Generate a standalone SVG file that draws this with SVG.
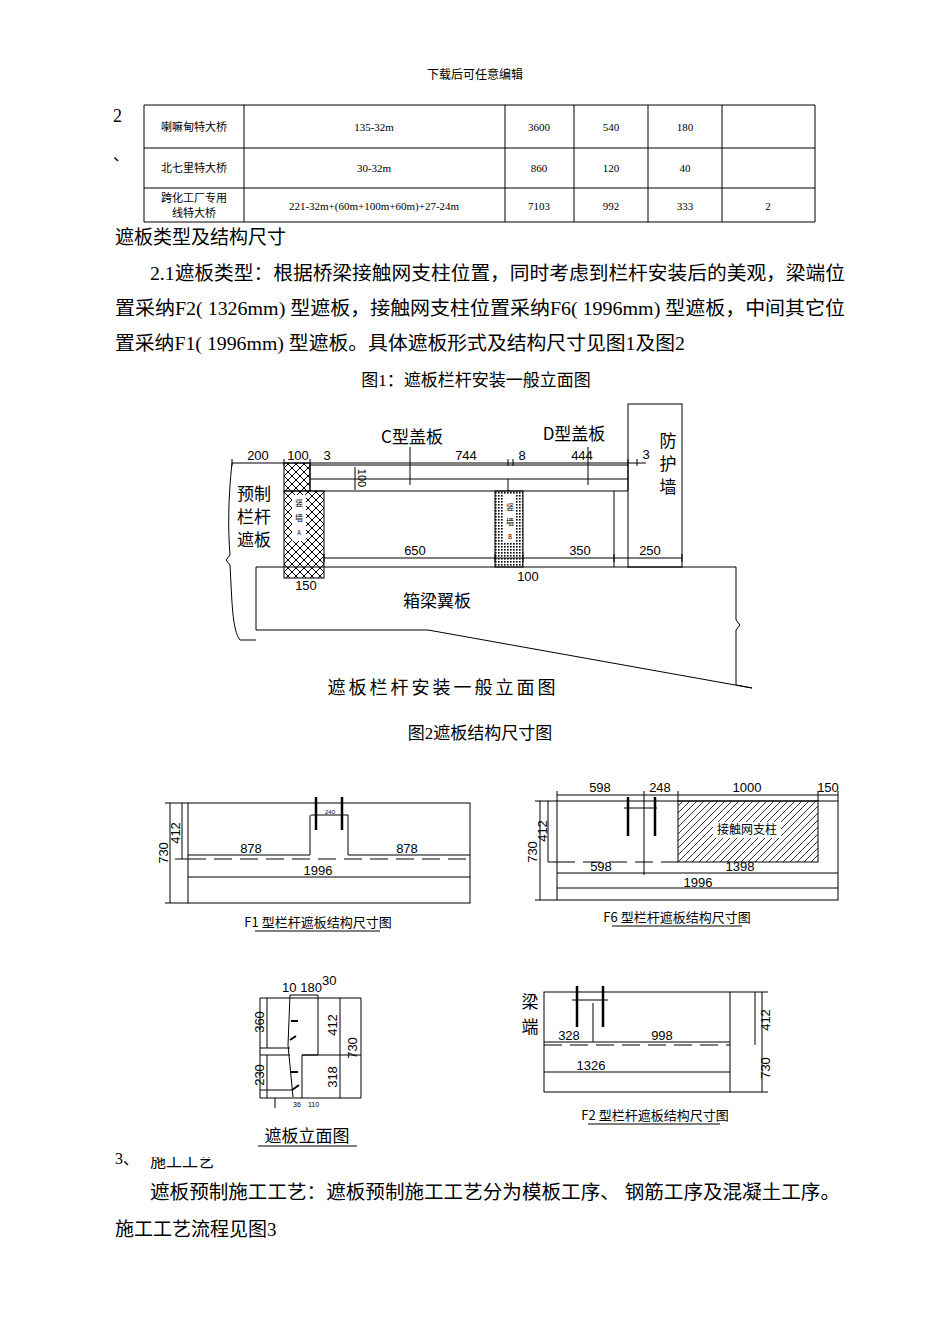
<svg xmlns="http://www.w3.org/2000/svg" width="950" height="1344" viewBox="0 0 950 1344">
<style>
.s{font-family:"Liberation Serif","Noto Sans CJK SC",serif;fill:#000}
.k{font-family:"Noto Sans CJK SC",sans-serif;fill:#000}
.l{stroke:#000;fill:none;stroke-width:1}
.t{stroke:#000;fill:none;stroke-width:1.3}
.d{font-family:"Liberation Sans","Noto Sans CJK SC",sans-serif;fill:#000;font-size:13px}
</style>
<defs>
<pattern id="xh" width="8" height="8" patternUnits="userSpaceOnUse"><path d="M0 0L8 8M8 0L0 8" stroke="#000" stroke-width="1"/></pattern>
<pattern id="dt" width="3" height="3" patternUnits="userSpaceOnUse"><rect width="1.6" height="1.6" fill="#000"/></pattern>
<pattern id="hh" width="7" height="7" patternUnits="userSpaceOnUse"><path d="M0 7L7 0" stroke="#000" stroke-width="0.8"/></pattern>
</defs>
<rect width="950" height="1344" fill="#fff"/>
<text class="k" x="475" y="79" font-size="12" text-anchor="middle">下载后可任意编辑</text>
<g id="table">
<text class="s" x="113" y="122" font-size="18">2</text>
<text class="s" x="113" y="160" font-size="16">、</text>
<path class="l" d="M144 105H815V222H144ZM144 148H815M144 188H815M244 105V222M505 105V222M574 105V222M648 105V222M722 105V222"/>
<g class="s" font-size="11" text-anchor="middle">
<text x="194" y="131">喇嘛甸特大桥</text><text x="374" y="131">135-32m</text><text x="539" y="131">3600</text><text x="611" y="131">540</text><text x="685" y="131">180</text>
<text x="194" y="172">北七里特大桥</text><text x="374" y="172">30-32m</text><text x="539" y="172">860</text><text x="611" y="172">120</text><text x="685" y="172">40</text>
<text x="194" y="202">跨化工厂专用</text><text x="194" y="217">线特大桥</text><text x="374" y="210">221-32m+(60m+100m+60m)+27-24m</text><text x="539" y="210">7103</text><text x="611" y="210">992</text><text x="685" y="210">333</text><text x="768" y="210">2</text>
</g>
</g>
<g class="s" font-size="19">
<text x="115" y="244">遮板类型及结构尺寸</text>
<text x="150" y="280" textLength="695" lengthAdjust="spacingAndGlyphs">2.1遮板类型：根据桥梁接触网支柱位置，同时考虑到栏杆安装后的美观，梁端位</text>
<text x="115" y="315" textLength="730" lengthAdjust="spacingAndGlyphs">置采纳F2( 1326mm) 型遮板，接触网支柱位置采纳F6( 1996mm) 型遮板，中间其它位</text>
<text x="115" y="350" textLength="570" lengthAdjust="spacingAndGlyphs">置采纳F1( 1996mm) 型遮板。具体遮板形式及结构尺寸见图1及图2</text>
<text x="476" y="386" font-size="17" text-anchor="middle">图1：遮板栏杆安装一般立面图</text>
<text x="480" y="739" font-size="17" text-anchor="middle">图2遮板结构尺寸图</text>
</g>
<g id="fig1">
<path class="l" d="M232 463C228 500 228 530 230 555L226 560L230 565C232 600 232 630 240 640H256"/>
<path class="l" d="M256 567H736V620L740 625L736 630V685L752 688L428 630H256Z"/>
<rect x="284" y="463" width="26" height="28" fill="url(#xh)" stroke="#000"/>
<rect x="284" y="491" width="40" height="87" fill="url(#xh)" stroke="#000"/>
<rect x="292" y="495" width="14" height="46" fill="#fff"/>
<text class="k" x="299" y="506" font-size="8" text-anchor="middle">竖</text><text class="k" x="299" y="521" font-size="8" text-anchor="middle">墙</text><text class="k" x="299" y="535" font-size="6" text-anchor="middle">A</text>
<rect x="495" y="491" width="28" height="76" fill="url(#dt)" stroke="#000"/>
<rect x="504" y="495" width="12" height="48" fill="#fff"/>
<text class="k" x="510" y="510" font-size="8" text-anchor="middle">竖</text><text class="k" x="510" y="525" font-size="8" text-anchor="middle">墙</text><text class="k" x="510" y="539" font-size="6" text-anchor="middle">B</text>
<path class="l" d="M310 465H628V491H310ZM310 479H628M508 479V491M614 491V567"/>
<rect x="628" y="404" width="54" height="163" class="l"/>
<path class="l" d="M232 463H646M232 459V466M284 459V466M310 459V466M508 459V466M513 459V466M628 459V466M637 459V466"/>
<path class="l" d="M324 558H682M324 554V562M495 554V562M523 554V562M614 554V562M682 554V562"/>
<path class="l" d="M355 467V490M410 447V485M588 447V485"/>
<g class="d" font-size="14">
<text x="258" y="460" text-anchor="middle">200</text><text x="298" y="460" text-anchor="middle">100</text><text x="327" y="460" text-anchor="middle">3</text>
<text x="466" y="460" text-anchor="middle">744</text><text x="522" y="460" text-anchor="middle">8</text><text x="582" y="460" text-anchor="middle">444</text><text x="646" y="459" text-anchor="middle">3</text>
<text x="415" y="555" text-anchor="middle">650</text><text x="580" y="555" text-anchor="middle">350</text><text x="650" y="555" text-anchor="middle">250</text>
<text x="306" y="590" text-anchor="middle">150</text><text x="528" y="581" text-anchor="middle">100</text>
<text transform="translate(358,478) rotate(90)" font-size="11" text-anchor="middle">100</text>
</g>
<g class="k" font-size="17">
<text x="412" y="443" text-anchor="middle">C型盖板</text><text x="574" y="440" text-anchor="middle">D型盖板</text>
<text x="668" y="447" text-anchor="middle">防</text><text x="668" y="470" text-anchor="middle">护</text><text x="668" y="493" text-anchor="middle">墙</text>
<text x="254" y="500" text-anchor="middle">预制</text><text x="254" y="523" text-anchor="middle">栏杆</text><text x="254" y="546" text-anchor="middle">遮板</text>
<text x="437" y="607" text-anchor="middle">箱梁翼板</text>
<text x="443" y="694" font-size="18" text-anchor="middle" letter-spacing="3">遮板栏杆安装一般立面图</text>
</g>
</g>
<g id="F1">
<rect x="188" y="803" width="282" height="100" class="l"/>
<path class="l" stroke-dasharray="18,8" d="M188 859H470"/>
<path class="l" d="M165 803H188M165 903H188M170 803V903M182 803V859M175 859H188M188 855H310M348 855H470M188 877H470M310 815V855M348 815V855M311 815H348"/>
<path stroke="#000" stroke-width="2.5" d="M316 797V830M342 797V830"/>
<g class="d"><text x="251" y="853" text-anchor="middle">878</text><text x="407" y="853" text-anchor="middle">878</text><text x="318" y="875" text-anchor="middle">1996</text><text x="330" y="814" font-size="6" text-anchor="middle">240</text>
<text transform="translate(180,833) rotate(-90)" text-anchor="middle">412</text><text transform="translate(168,853) rotate(-90)" text-anchor="middle">730</text></g>
<text class="k" x="318" y="927" font-size="13" text-anchor="middle">F1 型栏杆遮板结构尺寸图</text>
<path class="l" d="M255 931H380"/>
</g>
<g id="F6">
<rect x="557" y="801" width="281" height="99" class="l"/>
<rect x="678" y="801" width="140" height="61" fill="url(#hh)" stroke="#000"/>
<rect x="713" y="822" width="68" height="16" fill="#fff"/>
<path class="l" stroke-dasharray="18,8" d="M557 862H678"/>
<path class="l" d="M557 795H838M557 791V801M644 791V875M678 791V801M818 791V801M838 791V801M535 801H557M535 900H557M540 801V900M548 801V862M548 862H557M557 873H838M557 888H838M624 808H657"/>
<path stroke="#000" stroke-width="2.5" d="M628 797V836M655 797V836"/>
<g class="d"><text x="600" y="792" text-anchor="middle">598</text><text x="660" y="792" text-anchor="middle">248</text><text x="747" y="792" text-anchor="middle">1000</text><text x="828" y="792" text-anchor="middle">150</text>
<text x="601" y="871" text-anchor="middle">598</text><text x="740" y="871" text-anchor="middle">1398</text><text x="698" y="887" text-anchor="middle">1996</text>
<text transform="translate(547,831) rotate(-90)" text-anchor="middle">412</text><text transform="translate(537,852) rotate(-90)" text-anchor="middle">730</text></g>
<text class="k" x="747" y="834" font-size="12" text-anchor="middle">接触网支柱</text>
<text class="k" x="677" y="922" font-size="13" text-anchor="middle">F6 型栏杆遮板结构尺寸图</text>
<path class="l" d="M612 926H742"/>
</g>
<g id="side">
<path class="l" d="M290 995H318V1055H302V1098M290 995L288 1045L293 1097M260 998H361M260 998V1098H361M340 998V1098M361 998V1098M260 1048H290M260 1055H290M260 1090H292M302 1055H361M275 1098V1108"/>
<path class="l" d="M267 998V1048M267 1055V1098"/>
<path stroke="#000" stroke-width="2" d="M291 1021H298M290 1040L296 1036M290 1072H298M292 1090L299 1085"/>
<g class="d" font-size="6"><text x="302" y="992" text-anchor="middle">10 180</text><text x="322" y="985">30</text>
<text transform="translate(264,1022) rotate(-90)" text-anchor="middle">360</text><text transform="translate(264,1075) rotate(-90)" text-anchor="middle">230</text>
<text transform="translate(337,1025) rotate(-90)" text-anchor="middle">412</text><text transform="translate(337,1077) rotate(-90)" text-anchor="middle">318</text>
<text transform="translate(357,1048) rotate(-90)" text-anchor="middle">730</text><text x="293" y="1107" font-size="7">36</text><text x="308" y="1107" font-size="7">110</text></g>
<text class="k" x="307" y="1142" font-size="17" text-anchor="middle">遮板立面图</text>
<path class="l" d="M258 1146H357"/>
</g>
<g id="F2">
<rect x="544" y="992" width="186" height="100" class="l"/>
<path class="l" stroke-dasharray="18,8" d="M544 1045H730"/>
<path class="l" d="M544 1042H730M544 1072H730M593 1003V1042M572 1000H608M730 992H768M730 1092H768M762 992V1092M755 992V1045"/>
<path stroke="#000" stroke-width="2.5" d="M577 986V1027M603 986V1027"/>
<g class="d"><text x="569" y="1040" text-anchor="middle">328</text><text x="662" y="1040" text-anchor="middle">998</text><text x="591" y="1070" text-anchor="middle">1326</text>
<text transform="translate(770,1020) rotate(-90)" text-anchor="middle">412</text><text transform="translate(770,1068) rotate(-90)" text-anchor="middle">730</text></g>
<text class="k" x="530" y="1008" font-size="17" text-anchor="middle">梁</text><text class="k" x="530" y="1033" font-size="17" text-anchor="middle">端</text>
<text class="k" x="655" y="1120" font-size="13" text-anchor="middle">F2 型栏杆遮板结构尺寸图</text>
<path class="l" d="M588 1124H720"/>
</g>
<g class="s" font-size="19">
<text x="115" y="1164" font-size="16">3、</text>
<text x="150" y="1167" font-size="16">施工工艺</text>
<rect x="148" y="1148" width="90" height="9" fill="#fff"/>
<text x="150" y="1199" textLength="690" lengthAdjust="spacingAndGlyphs">遮板预制施工工艺：遮板预制施工工艺分为模板工序、 钢筋工序及混凝土工序。</text>
<text x="115" y="1236">施工工艺流程见图3</text>
</g>
</svg>
